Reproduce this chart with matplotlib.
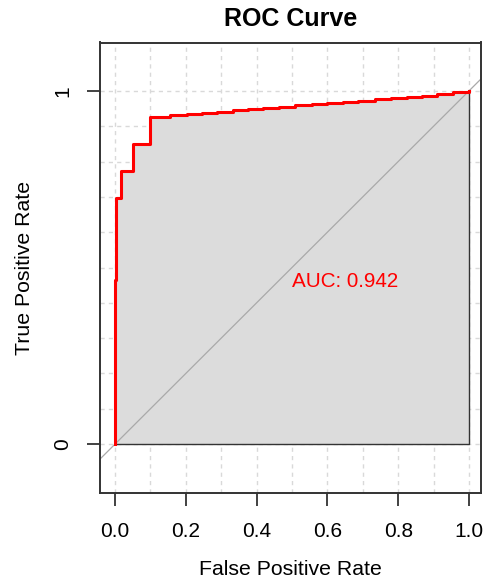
import numpy as np
import matplotlib
matplotlib.use("Agg")
import matplotlib.pyplot as plt

plt.rcParams['font.family'] = ['Liberation Sans', 'DejaVu Sans']

# ROC curve corners (steps-post)
fpr = [0.0, 0.0, 0.004, 0.016, 0.052, 0.099, 0.155, 0.202, 0.245, 0.287, 0.334,
       0.377, 0.419, 0.464, 0.508, 0.556, 0.600, 0.645, 0.687, 0.734, 0.781,
       0.824, 0.866, 0.909, 0.956, 1.0]
tpr = [0.0, 0.465, 0.697, 0.773, 0.849, 0.927, 0.931, 0.934, 0.938, 0.941, 0.945,
       0.948, 0.952, 0.955, 0.959, 0.962, 0.966, 0.969, 0.972, 0.976, 0.979,
       0.983, 0.986, 0.990, 0.997, 1.0]
auc_value = 0.942

x_ticks = [0.0, 0.2, 0.4, 0.6, 0.8, 1.0]
x_labels = ["0.0", "0.2", "0.4", "0.6", "0.8", "1.0"]
y_ticks = [0, 1]
y_labels = ["0", "1"]

fig = plt.figure(figsize=(4.83, 5.85), dpi=100)
ax = fig.add_axes([99.5 / 483, (585 - 492.5) / 585, 382 / 483, 450 / 585])
ax.set_xlim(-0.0438, 1.0353)
ax.set_ylim(-0.137, 1.137)

# dotted grid every 0.1
for g in np.linspace(0, 1, 11):
    ax.axvline(g, color='#D9D9D9', lw=1, ls=(0, (3, 3)), zorder=0)
    ax.axhline(g, color='#D9D9D9', lw=1, ls=(0, (3, 3)), zorder=0)

# area under the curve
ax.fill_between(fpr, 0, tpr, step='post', facecolor='#DCDCDC',
                edgecolor='#333333', lw=1, zorder=1)

# identity line
ax.axline((0, 0), (1, 1), color='#A9A9A9', lw=0.9, zorder=2)

ax.step(fpr, tpr, where='post', color='red', lw=2.2, zorder=3)

ax.text(0.5, 0.488, "AUC: %.3f" % auc_value, color='red', fontsize=14.9,
        ha='left', va='top', zorder=4)

ax.set_xticks(x_ticks)
ax.set_xticklabels(x_labels, fontsize=15)
ax.set_yticks(y_ticks)
ax.set_yticklabels(y_labels, fontsize=15, rotation=90, va='center')
ax.tick_params(axis='x', length=9, width=1.3, color='#333333', pad=12)
ax.tick_params(axis='y', length=9.5, width=1.3, color='#333333', pad=10)

for s in ax.spines.values():
    s.set_color('#333333')
    s.set_linewidth(1.4)

ax.set_xlabel("False Positive Rate", fontsize=15.3, labelpad=14)
ax.set_ylabel("True Positive Rate", fontsize=15.3, labelpad=14)
ax.set_title("ROC Curve", fontsize=18, fontweight='bold', pad=12)

fig.savefig("out.png", dpi=100)
